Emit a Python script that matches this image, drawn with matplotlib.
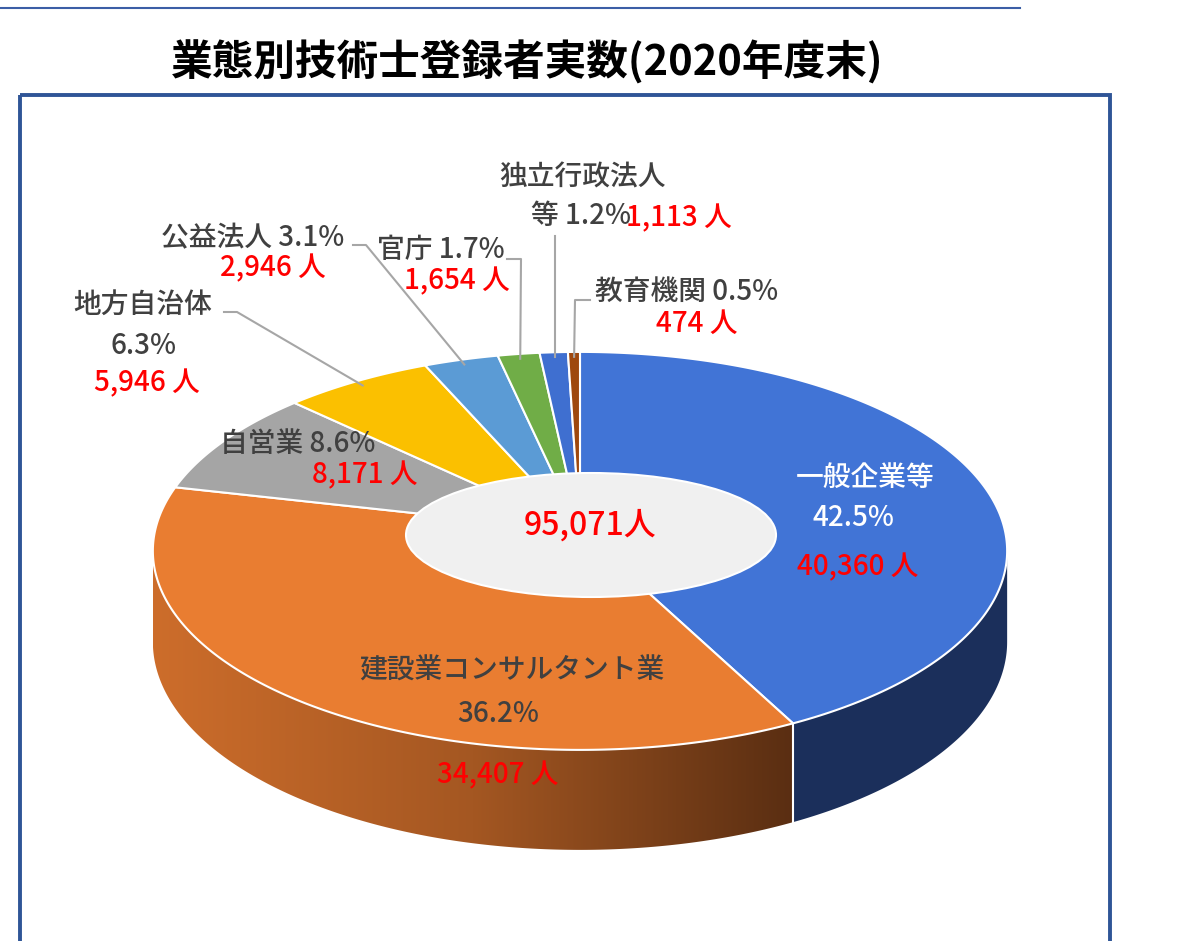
import numpy as np
import matplotlib
matplotlib.use('Agg')
import matplotlib.pyplot as plt
from matplotlib.patches import Polygon, Ellipse, Rectangle
from matplotlib.colors import LinearSegmentedColormap

plt.rcParams['font.family'] = ['Noto Sans CJK JP', 'DejaVu Sans']

# --- data ---
title = '業態別技術士登録者実数(2020年度末)'
categories = ['一般企業等', '建設業コンサルタント業', '自営業', '地方自治体',
              '公益法人', '官庁', '独立行政法人等', '教育機関']
counts = [40360, 34407, 8171, 5946, 2946, 1654, 1113, 474]
colors = ['#4174D6', '#E97D31', '#A5A5A5', '#FBC000',
          '#5B9BD5', '#70AD47', '#3F6FD0', '#9E480E']

total = sum(counts)
pcts = [f'{c / total * 100:.1f}%' for c in counts]
cnts = [f'{c:,} 人' for c in counts]

# --- pie geometry (pixel space, pseudo 3D) ---
W, H = 1186, 941
CX, CY, RX, RY = 580, 531, 425, 197
PERSP = 0.10
DEPTH = 90
GRAY = '#404040'
RED = '#FF0000'


def rim(theta, r=1.0):
    """Point on the top face, theta in degrees clockwise from 12 o'clock."""
    t = np.radians(theta)
    u, v = r * np.sin(t), -r * np.cos(t)
    k = 1.0 / (1.0 - PERSP * v)
    return CX + RX * u * k, CY + RY * v * k, DEPTH * k


fig = plt.figure(figsize=(W / 100, H / 100), dpi=100)
ax = fig.add_axes([0, 0, 1, 1])
ax.set_xlim(0, W)
ax.set_ylim(H, 0)
ax.axis('off')

bounds = np.concatenate([[0], np.cumsum(counts) / total * 360])

# visible front range of the side wall
grid = np.linspace(0, 360, 3601)
gx = rim(grid)[0]
th_r = grid[:1801][np.argmax(gx[:1801])]
th_l = grid[1800:][np.argmin(gx[1800:])]

# side walls
wall_colors = {0: '#1B2F5B'}
for i in range(len(counts)):
    a, b = max(bounds[i], th_r), min(bounds[i + 1], th_l)
    if a >= b:
        continue
    t = np.linspace(a, b, 200)
    x, y, d = rim(t)
    px = np.concatenate([x, x[::-1]])
    py = np.concatenate([y, (y + d)[::-1]])
    if i == 1:
        poly = Polygon(np.column_stack([px, py]), closed=True,
                       facecolor='none', edgecolor='none')
        ax.add_patch(poly)
        cmap = LinearSegmentedColormap.from_list(
            'wall', ['#CD6D2B', '#A45722', '#5A2E12'])
        grad = np.linspace(0, 1, 256).reshape(1, -1)
        im = ax.imshow(grad, cmap=cmap, aspect='auto', zorder=1,
                       extent=(px.min(), px.max(), py.max(), py.min()))
        im.set_clip_path(poly)
    else:
        ax.add_patch(Polygon(np.column_stack([px, py]), closed=True,
                             facecolor=wall_colors.get(i, colors[i]),
                             edgecolor='none', zorder=1))

# white seam on the wall between first two slices
sx, sy, sd = rim(bounds[1])
ax.plot([sx, sx], [sy, sy + sd], color='white', lw=1.5, zorder=1.5)

# top faces
for i in range(len(counts)):
    t = np.linspace(bounds[i], bounds[i + 1], 200)
    x, y, _ = rim(t)
    pts = np.column_stack([np.r_[CX, x], np.r_[CY, y]])
    ax.add_patch(Polygon(pts, closed=True, facecolor=colors[i],
                         edgecolor='white', lw=1.5, zorder=2))

# center hole
ax.add_patch(Ellipse((591, 535), 370, 124, facecolor='#F0F0F0',
                     edgecolor='white', lw=1.5, zorder=3))

# leader lines: (slice index, start/elbow points)
leaders = [
    (3, [(224, 312), (237, 312)]),
    (4, [(353, 245), (366, 245)]),
    (5, [(507, 259), (521, 259)]),
    (6, [(555, 236)]),
    (7, [(590, 300), (575, 300)]),
]
for i, pts in leaders:
    mid = (bounds[i] + bounds[i + 1]) / 2
    ex, ey, _ = rim(mid, 0.97)
    xs = [p[0] for p in pts] + [ex]
    ys = [p[1] for p in pts] + [ey]
    if i == 6:
        xs[-1] = xs[0]
    ax.plot(xs, ys, color='#A6A6A6', lw=1.5, zorder=4)

# labels
labels = [
    (categories[0], 865, 477, 'white'),
    (pcts[0], 853, 518, 'white'),
    (cnts[0], 858, 567, RED),
    (categories[1], 512, 670, GRAY),
    (pcts[1], 498, 713, GRAY),
    (cnts[1], 498, 775, RED),
    (f'{categories[2]} {pcts[2]}', 298, 443, GRAY),
    (cnts[2], 365, 475, RED),
    (categories[3], 143, 304, GRAY),
    (pcts[3], 143, 345, GRAY),
    (cnts[3], 147, 383, RED),
    (f'{categories[4]} {pcts[4]}', 253, 238, GRAY),
    (cnts[4], 273, 268, RED),
    (f'{categories[5]} {pcts[5]}', 441, 249, GRAY),
    (cnts[5], 457, 281, RED),
    (categories[6][:-1], 582, 177, GRAY),
    (f'{categories[6][-1]} {pcts[6]}', 581, 215, GRAY),
    (cnts[6], 679, 218, RED),
    (f'{categories[7]} {pcts[7]}', 687, 291, GRAY),
    (cnts[7], 697, 323, RED),
]
for txt, x, y, c in labels:
    ax.text(x, y, txt, color=c, fontsize=20, fontweight='medium',
            ha='center', va='center', zorder=5)

ax.text(590, 525, f'{total:,}人', color=RED, fontsize=23, fontweight='medium',
        ha='center', va='center', zorder=5)

# title and frame
ax.text(527, 62, title, fontsize=30, fontweight='bold', color='black',
        ha='center', va='center')
ax.plot([0, 1020], [8, 8], color='#3B5EA6', lw=1.5)
ax.add_patch(Rectangle((20, 95), 1090, 900, fill=False,
                       edgecolor='#2F5597', lw=2.8, zorder=6))

fig.savefig('out.png', dpi=100)
